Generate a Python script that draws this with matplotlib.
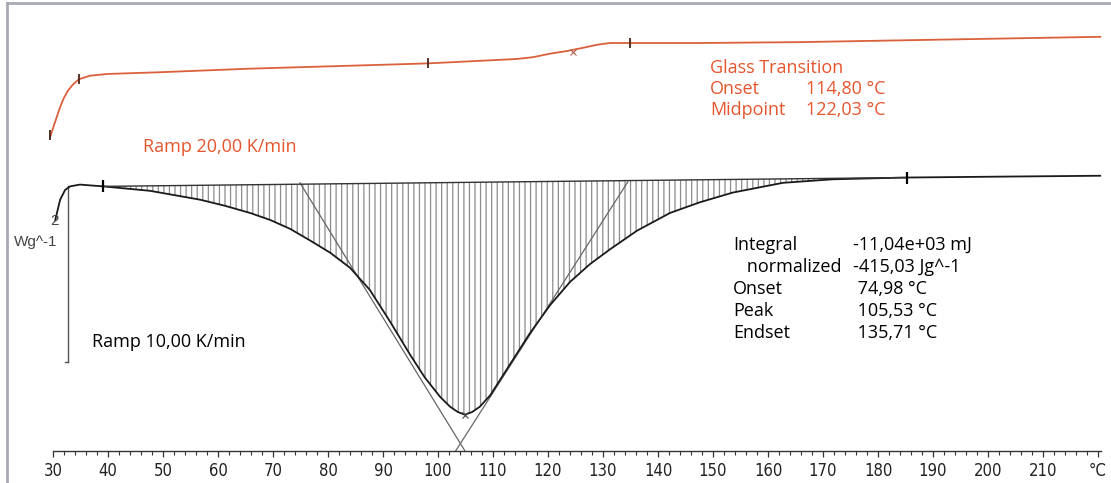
import numpy as np
import matplotlib
matplotlib.use('Agg')
import matplotlib.pyplot as plt
from matplotlib.lines import Line2D

# ── Data ─────────────────────────────────────────────────────────────────────
# x: temperature in °C, y: heat flow in W/g (curves offset as in the software)

# first run, 20 K/min (orange)
upper_T = [29.5, 29.9, 30.5, 31.2, 31.9, 32.7, 33.6, 34.7, 36.7, 39.8, 49.5,
           65.8, 93.1, 98.2, 111.3, 114.4, 117.3, 120.4, 123.5, 126.7, 128.9,
           130.0, 131.3, 134.9, 147.6, 165.8, 184.0, 202.2, 220.4]
upper_y = [3.55, 3.63, 3.74, 3.87, 3.98, 4.07, 4.14, 4.20, 4.24, 4.26, 4.28,
           4.32, 4.37, 4.38, 4.42, 4.43, 4.45, 4.49, 4.52, 4.56, 4.59,
           4.60, 4.61, 4.61, 4.61, 4.62, 4.64, 4.66, 4.68]
upper_marks_T = [29.5, 34.7, 98.2, 134.9]
upper_marks_y = [3.57, 4.20, 4.38, 4.61]
glass_x_T = [124.5]
glass_x_y = [4.51]

# second run, 10 K/min (black)
lower_T = [30.4, 31.3, 32.2, 33.1, 34.9, 39.1, 47.6, 56.7, 61.3, 65.8, 69.5,
           73.1, 76.7, 80.4, 84.0, 87.6, 91.3, 94.9, 97.6, 100.4, 102.2,
           103.6, 104.9, 106.2, 107.6, 109.5, 113.1, 116.7, 120.4, 124.0,
           127.6, 131.3, 136.2, 142.2, 147.6, 153.6, 162.7, 171.8, 185.3,
           202.2, 220.4]
lower_y = [2.61, 2.84, 2.95, 2.99, 3.01, 2.99, 2.94, 2.84, 2.77, 2.69, 2.61,
           2.51, 2.38, 2.24, 2.07, 1.82, 1.46, 1.09, 0.83, 0.61, 0.50,
           0.44, 0.41, 0.44, 0.50, 0.63, 0.98, 1.33, 1.65, 1.91,
           2.11, 2.28, 2.49, 2.69, 2.81, 2.92, 3.03, 3.07, 3.09,
           3.10, 3.11]

# integration limits (baseline end points)
base_T = [39.1, 185.3]
base_y = [2.99, 3.09]

# onset / endset tangents
tan_left_T = [74.9, 104.9]
tan_left_y = [3.03, 0.0]
tan_right_T = [103.2, 134.5]
tan_right_y = [0.0, 3.04]
peak_T = [104.9]
peak_y = [0.41]

# 2 Wg^-1 scale bar
scale_T = [32.7, 32.7]
scale_y = [2.99, 1.0]

ticks_major = list(range(30, 211, 10)) + [220]
tick_labels = [str(t) for t in range(30, 211, 10)] + ['°C']

orange_rows = [('Glass Transition', ''),
               ('Onset', '114,80 °C'),
               ('Midpoint', '122,03 °C')]
black_rows = [('Integral', '-11,04e+03 mJ'),
              ('   normalized', '-415,03 Jg^-1'),
              ('Onset', ' 74,98 °C'),
              ('Peak', ' 105,53 °C'),
              ('Endset', ' 135,71 °C')]

ORANGE_TXT = '#e6552c'
ORANGE_LN = '#d9603b'
TXT_FONT = ['Open Sans', 'DejaVu Sans']

plt.rcParams['hatch.color'] = '#8c8c8c'
plt.rcParams['hatch.linewidth'] = 0.9

W, H = 1111, 483
fig = plt.figure(figsize=(W / 100, H / 100), dpi=100)
ax = fig.add_axes([0, 0, 1, 1])
ax.set_xlim(20.36, 222.36)
ax.set_ylim(-0.362, 5.096)
ax.patch.set_alpha(0)


def px(x, y):
    return x / W, 1 - y / H


# hatched peak area between curve and linear baseline
lT = np.array(lower_T)
lY = np.array(lower_y)
bl = np.interp(lT, base_T, base_y)
mask = (lT >= base_T[0]) & (lT <= base_T[1])
ax.fill_between(lT, lY, bl, where=mask, facecolor='none', edgecolor='#8c8c8c',
                hatch='|||', linewidth=0, zorder=1)

# curves
ax.plot(upper_T, upper_y, color=ORANGE_LN, lw=1.3, zorder=3,
        solid_joinstyle='round')
ax.plot(lower_T, lower_y, color='#1a1a1a', lw=1.3, zorder=3,
        solid_joinstyle='round')
ax.plot(base_T, base_y, color='#333333', lw=1.0, zorder=3)
ax.plot(tan_left_T, tan_left_y, color='#666666', lw=0.9, zorder=2)
ax.plot(tan_right_T, tan_right_y, color='#666666', lw=0.9, zorder=2)

# markers
ax.plot(upper_marks_T, upper_marks_y, ls='none', marker='|', ms=7, mew=1.3,
        color='#4a2418', zorder=4)
ax.plot(glass_x_T, glass_x_y, ls='none', marker='x', ms=5, mew=0.8,
        color='#b06048', zorder=4)
ax.plot(base_T, base_y, ls='none', marker='|', ms=9, mew=1.6,
        color='black', zorder=4)
ax.plot(peak_T, peak_y, ls='none', marker='x', ms=5, mew=0.8,
        color='#444444', zorder=4)

# scale bar
ax.plot(scale_T, scale_y, color='#555555', lw=1.0)
ax.plot([32.2, 32.7], [scale_y[1], scale_y[1]], color='#555555', lw=1.0)
ax.text(31.0, 2.60, '2', ha='right', va='center', fontsize=11,
        family=['Liberation Sans', 'DejaVu Sans'], color='#444444')
ax.text(30.8, 2.36, 'Wg^-1', ha='right', va='center', fontsize=11,
        family=['Liberation Sans', 'DejaVu Sans'], color='#444444')

# temperature axis
for s in ['top', 'right', 'left']:
    ax.spines[s].set_visible(False)
ax.spines['bottom'].set_position(('data', 0))
ax.spines['bottom'].set_bounds(30, 220.5)
ax.spines['bottom'].set_color('#333333')
ax.spines['bottom'].set_linewidth(1.0)
ax.set_yticks([])
ax.set_xticks(ticks_major)
ax.set_xticklabels(tick_labels, family=['DejaVu Sans'], stretch='condensed',
                   fontsize=12, color='#222222')
ax.set_xticks(np.arange(30, 221, 2), minor=True)
ax.tick_params(axis='x', which='major', direction='out', length=4, width=0.9,
               pad=4, color='#333333')
ax.tick_params(axis='x', which='minor', direction='out', length=3, width=0.8,
               color='#333333')

# annotations
fig.text(*px(143, 147), 'Ramp 20,00 K/min', color=ORANGE_TXT, fontsize=13,
         family=TXT_FONT, va='center')
fig.text(*px(92, 342), 'Ramp 10,00 K/min', color='black', fontsize=13,
         family=TXT_FONT, va='center')

for i, (lab, val) in enumerate(orange_rows):
    y = 68 + i * 21
    fig.text(*px(710, y), lab, color=ORANGE_TXT, fontsize=13, family=TXT_FONT,
             va='center')
    if val:
        fig.text(*px(806, y), val, color=ORANGE_TXT, fontsize=13,
                 family=TXT_FONT, va='center')

for i, (lab, val) in enumerate(black_rows):
    y = 245 + i * 22
    fig.text(*px(733, y), lab, color='black', fontsize=13, family=TXT_FONT,
             va='center')
    fig.text(*px(853, y), val, color='black', fontsize=13, family=TXT_FONT,
             va='center')

# window frame
fig.add_artist(Line2D([7 / W, 7 / W], [0, 1 - 3 / H], color='#a7aab6', lw=2))
fig.add_artist(Line2D([7 / W, 1], [1 - 3 / H, 1 - 3 / H], color='#a7aab6', lw=2))

fig.savefig('out.png', dpi=100)
